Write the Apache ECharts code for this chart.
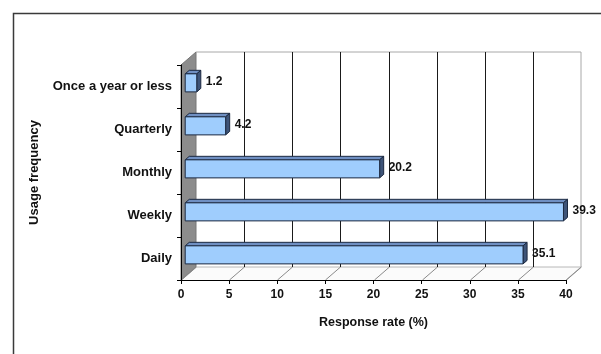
<!DOCTYPE html>
<html>
<head>
<meta charset="utf-8">
<script src="https://cdn.jsdelivr.net/npm/echarts@6/dist/echarts.min.js"></script>
<style>
  html, body { margin: 0; padding: 0; background: #ffffff; }
  #chart { width: 601px; height: 354px; }
</style>
</head>
<body>
<div id="chart"></div>
<script>
// Usage frequency survey: share of respondents per category (%)
const categories = ['Daily', 'Weekly', 'Monthly', 'Quarterly', 'Once a year or less'];
const responseRates = [35.1, 39.3, 20.2, 4.2, 1.2];
const xTicks = [0, 5, 10, 15, 20, 25, 30, 35, 40];

// Oblique projection used to fake the 3D box (pixels per full depth)
const DEPTH_X = 15;
const DEPTH_Y = -13;
// Bars sit in a slab inside the box depth
const BAR_FRONT = 0.28;
const BAR_BACK = 0.55;
const BAR_SHARE = 0.42;

const FONT = '"Liberation Sans", Arial, Helvetica, sans-serif';

const chart = echarts.init(document.getElementById('chart'), null, { renderer: 'canvas' });

function off(p, f) {
  return [p[0] + DEPTH_X * f, p[1] + DEPTH_Y * f];
}

// Back wall, side wall and floor of the box
function renderFrame(params, api) {
  const cs = params.coordSys;
  const x = cs.x, y = cs.y, w = cs.width, h = cs.height;
  const dx = DEPTH_X, dy = DEPTH_Y;
  return {
    type: 'group',
    children: [
      { type: 'polygon', shape: { points: [[x + dx, y + dy], [x + w + dx, y + dy], [x + w + dx, y + h + dy], [x + dx, y + h + dy]] },
        style: { fill: '#ffffff', stroke: null } },
      { type: 'polygon', shape: { points: [[x, y + h], [x + w, y + h], [x + w + dx, y + h + dy], [x + dx, y + h + dy]] },
        style: { fill: '#fbfbfb', stroke: null } },
      { type: 'polygon', shape: { points: [[x, y], [x + dx, y + dy], [x + dx, y + h + dy], [x, y + h]] },
        style: { fill: '#8c8c8c', stroke: '#777777', lineWidth: 1 } },
      { type: 'polyline', shape: { points: [[x + dx, y + dy], [x + w + dx, y + dy], [x + w + dx, y + h + dy], [x + w, y + h]] },
        style: { fill: null, stroke: '#a8a8a8', lineWidth: 1 } },
      { type: 'line', shape: { x1: x + dx, y1: y + h + dy, x2: x + w + dx, y2: y + h + dy },
        style: { stroke: '#b8b8b8', lineWidth: 1 } }
    ]
  };
}

// Grid lines on the back wall plus their diagonals across the floor
function renderGrid(params, api) {
  const cs = params.coordSys;
  const v = api.value(0);
  const p = api.coord([v, 0]);
  const px = Math.round(p[0]) + 0.5;
  const top = cs.y, bottom = cs.y + cs.height;
  const children = [
    { type: 'line', shape: { x1: px, y1: bottom, x2: px + DEPTH_X, y2: bottom + DEPTH_Y },
      style: { stroke: '#8a8a8a', lineWidth: 1 } }
  ];
  if (v > 0 && v < 40) {
    children.push({ type: 'line',
      shape: { x1: px + DEPTH_X, y1: top + DEPTH_Y, x2: px + DEPTH_X, y2: bottom + DEPTH_Y },
      style: { stroke: '#1a1a1a', lineWidth: 1 } });
  }
  return { type: 'group', children: children };
}

// Prism-shaped bars with value label past the end cap
function renderBar(params, api) {
  const v = api.value(0);
  const idx = api.value(1);
  const start = api.coord([0, idx]);
  const end = api.coord([v, idx]);
  const h = api.size([0, 1])[1] * BAR_SHARE;

  const fTL = off([start[0], start[1] - h / 2], BAR_FRONT);
  const fTR = off([end[0], end[1] - h / 2], BAR_FRONT);
  const fBR = off([end[0], end[1] + h / 2], BAR_FRONT);
  const fBL = off([start[0], start[1] + h / 2], BAR_FRONT);
  const bTL = off([start[0], start[1] - h / 2], BAR_BACK);
  const bTR = off([end[0], end[1] - h / 2], BAR_BACK);
  const bBR = off([end[0], end[1] + h / 2], BAR_BACK);

  const edge = '#1c2940';
  return {
    type: 'group',
    children: [
      { type: 'polygon', shape: { points: [fTL, fTR, bTR, bTL] },
        style: { fill: '#6f8fc2', stroke: edge, lineWidth: 1 } },
      { type: 'polygon', shape: { points: [fTR, bTR, bBR, fBR] },
        style: { fill: '#3e5478', stroke: edge, lineWidth: 1 } },
      { type: 'polygon', shape: { points: [fTL, fTR, fBR, fBL] },
        style: { fill: '#9fcdfd', stroke: edge, lineWidth: 1 } },
      { type: 'text',
        style: {
          x: bTR[0] + 5, y: (fTR[1] + fBR[1]) / 2 - 1,
          text: String(v),
          fill: '#111111',
          font: 'bold 12px ' + FONT,
          textAlign: 'left', textVerticalAlign: 'middle'
        } }
    ]
  };
}

const option = {
  backgroundColor: '#ffffff',
  animation: false,
  grid: { left: 181, right: 35, top: 65, bottom: 74, containLabel: false },
  xAxis: {
    type: 'value', min: 0, max: 40, interval: 5, z: 10,
    name: 'Response rate (%)', nameLocation: 'middle', nameGap: 36,
    nameTextStyle: { color: '#111', fontFamily: FONT, fontWeight: 'bold', fontSize: 12.5 },
    axisLine: { show: true, lineStyle: { color: '#000', width: 1 } },
    axisTick: { show: true, length: 4, lineStyle: { color: '#000' } },
    axisLabel: { color: '#111', fontFamily: FONT, fontWeight: 'bold', fontSize: 12, margin: 9 },
    splitLine: { show: false }
  },
  yAxis: {
    type: 'category', data: categories, z: 10,
    name: 'Usage frequency', nameLocation: 'middle', nameGap: 140,
    nameTextStyle: { color: '#111', fontFamily: FONT, fontWeight: 'bold', fontSize: 13 },
    axisLine: { show: true, lineStyle: { color: '#000', width: 1 } },
    axisTick: { show: true, length: 4, lineStyle: { color: '#000' } },
    axisLabel: { color: '#111', fontFamily: FONT, fontWeight: 'bold', fontSize: 13, margin: 9 },
    splitLine: { show: false }
  },
  graphic: [
    { type: 'rect', left: 11, top: 11, shape: { width: 640, height: 400 },
      style: { fill: null, stroke: '#3a3a3a', lineWidth: 1.5 }, silent: true, z: -1 }
  ],
  series: [
    { type: 'custom', z: 1, renderItem: renderFrame, data: [[0, 0]], silent: true },
    { type: 'custom', z: 2, renderItem: renderGrid, data: xTicks.map(v => [v, 0]), silent: true },
    { type: 'custom', z: 5, renderItem: renderBar,
      data: responseRates.map((v, i) => [v, i]),
      encode: { x: 0, y: 1 } }
  ]
};

chart.setOption(option);
</script>
</body>
</html>
